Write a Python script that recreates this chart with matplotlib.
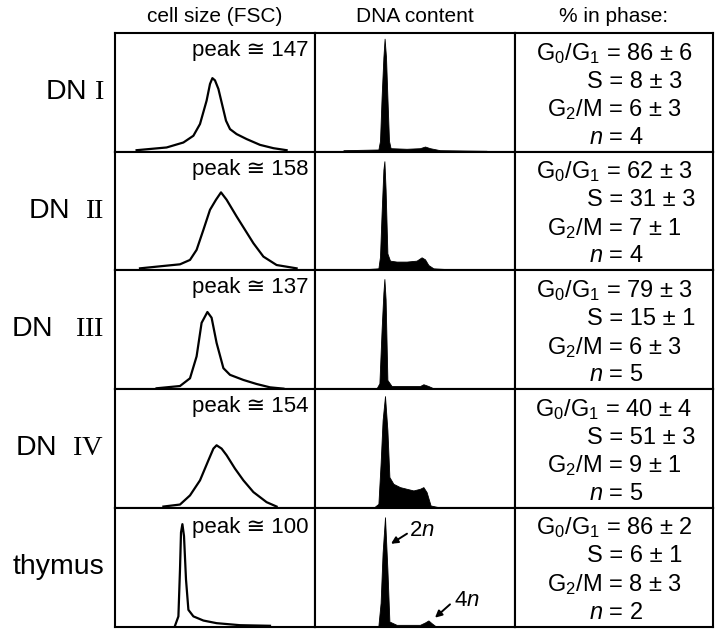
import matplotlib
matplotlib.use("Agg")
import matplotlib.pyplot as plt

plt.rcParams['font.family'] = ['Liberation Sans', 'DejaVu Sans']
plt.rcParams['mathtext.fontset'] = 'custom'
plt.rcParams['mathtext.rm'] = 'Liberation Sans'
plt.rcParams['mathtext.it'] = 'Liberation Sans:italic'
plt.rcParams['mathtext.sf'] = 'Liberation Sans'
plt.rcParams['mathtext.tt'] = 'Liberation Serif'

# ---------------- data ----------------
col_titles = ["cell size (FSC)", "DNA content", "% in phase:"]
row_labels = [r"DN $\mathtt{I}$", r"DN  $\mathtt{II}$", r"DN   $\mathtt{III}$",
              r"DN  $\mathtt{IV}$", "thymus"]
fsc_peaks = [147, 158, 137, 154, 100]

g1_mean = [86, 62, 79, 40, 86]
g1_sd = [6, 3, 3, 4, 2]
s_mean = [8, 31, 15, 51, 6]
s_sd = [3, 3, 1, 3, 1]
g2_mean = [6, 7, 6, 9, 8]
g2_sd = [3, 1, 3, 1, 3]
n_exp = [4, 4, 5, 5, 2]

# FSC histograms (channel %, relative count %)
fsc_x_dn1 = [10.8, 25.8, 34.2, 39.2, 42.5, 45.8, 47.5, 48.7, 50.0, 51.7, 53.3, 55.5, 57.5, 60.8, 65.8, 72.5, 79.2, 85.8]
fsc_y_dn1 = [1.1, 3.4, 7.6, 13.3, 23.2, 42.9, 57.0, 61.9, 60.0, 52.8, 41.5, 26.0, 18.9, 14.7, 10.5, 5.6, 2.8, 1.1]
fsc_x_dn2 = [12.5, 24.2, 32.5, 37.5, 40.8, 44.2, 47.5, 50.5, 53.0, 55.8, 60.8, 65.0, 69.2, 74.2, 80.8, 90.8]
fsc_y_dn2 = [1.4, 3.4, 4.8, 8.5, 17.0, 33.9, 50.8, 59.3, 65.5, 59.3, 45.2, 33.9, 22.6, 11.3, 4.2, 1.4]
fsc_x_dn3 = [20.8, 32.5, 37.5, 40.8, 43.3, 46.2, 48.3, 50.8, 54.2, 57.5, 64.2, 70.8, 77.5, 84.2]
fsc_y_dn3 = [0.6, 2.5, 9.0, 27.4, 55.6, 64.7, 59.9, 38.7, 17.5, 11.9, 7.6, 4.2, 1.4, 0.3]
fsc_x_dn4 = [24.2, 32.5, 37.5, 42.5, 46.7, 49.2, 50.8, 53.3, 55.8, 60.0, 64.2, 69.2, 75.8, 80.8]
fsc_y_dn4 = [0.8, 2.5, 10.2, 22.9, 39.8, 49.7, 52.5, 49.7, 44.1, 32.8, 22.9, 13.0, 4.5, 0.8]
fsc_x_thy = [30.0, 31.7, 32.5, 33.0, 33.7, 34.5, 35.5, 36.7, 39.2, 44.2, 50.8, 62.5, 77.5]
fsc_y_thy = [0.6, 8.5, 48.0, 79.0, 86.0, 76.0, 39.5, 14.0, 8.5, 5.0, 2.8, 1.1, 0.6]

# DNA content histograms (channel %, relative count %)
dna_x_dn1 = [14.2, 31.7, 32.5, 33.3, 34.2, 34.8, 35.5, 36.2, 37.0, 37.8, 45.8, 52.5, 55.0, 57.5, 62.5, 85.8]
dna_y_dn1 = [1.1, 1.7, 9.0, 45.8, 79.7, 95.2, 79.7, 45.8, 9.0, 2.8, 2.3, 2.8, 4.2, 2.8, 1.1, 0.6]
dna_x_dn2 = [24.2, 31.7, 32.5, 33.3, 34.2, 34.7, 35.3, 36.2, 37.5, 40.8, 45.8, 50.8, 53.3, 55.0, 56.7, 59.2, 74.2]
dna_y_dn2 = [0.6, 1.4, 11.3, 48.0, 84.7, 91.8, 67.8, 14.0, 7.9, 7.1, 7.1, 7.9, 10.7, 9.0, 4.2, 1.4, 0.0]
dna_x_dn3 = [30.8, 32.2, 33.3, 34.2, 34.7, 35.3, 36.2, 38.3, 45.8, 52.5, 54.2, 56.7, 59.2]
dna_y_dn3 = [0.6, 4.8, 50.0, 81.0, 92.4, 75.4, 7.6, 2.5, 2.5, 2.5, 4.0, 2.5, 0.6]
dna_x_dn4 = [30.0, 31.7, 32.8, 33.8, 35.0, 36.2, 37.2, 39.2, 42.5, 45.8, 49.2, 52.5, 54.2, 55.8, 57.8, 62.5]
dna_y_dn4 = [0.8, 3.1, 37.0, 73.7, 94.0, 65.3, 25.7, 20.0, 17.2, 15.8, 14.4, 15.8, 17.2, 13.0, 1.7, 0.0]
dna_x_thy = [31.7, 32.8, 33.8, 35.0, 36.2, 37.2, 40.8, 52.5, 55.0, 56.7, 58.3, 60.0]
dna_y_thy = [0.6, 19.8, 62.0, 91.8, 48.0, 4.2, 1.4, 1.4, 3.4, 5.1, 2.8, 0.6]

fsc_x = [fsc_x_dn1, fsc_x_dn2, fsc_x_dn3, fsc_x_dn4, fsc_x_thy]
fsc_y = [fsc_y_dn1, fsc_y_dn2, fsc_y_dn3, fsc_y_dn4, fsc_y_thy]
dna_x = [dna_x_dn1, dna_x_dn2, dna_x_dn3, dna_x_dn4, dna_x_thy]
dna_y = [dna_y_dn1, dna_y_dn2, dna_y_dn3, dna_y_dn4, dna_y_thy]

# ---------------- layout ----------------
W, H = 720, 632
fig = plt.figure(figsize=(W / 100, H / 100), dpi=100)
col_edges = [115, 315, 515, 713]
row_edges = [33, 151.5, 270, 389, 507.5, 626.5]

def make_ax(c, r):
    x0, x1 = col_edges[c], col_edges[c + 1]
    y0, y1 = row_edges[r], row_edges[r + 1]
    ax = fig.add_axes([x0 / W, 1 - y1 / H, (x1 - x0) / W, (y1 - y0) / H])
    ax.set_xlim(0, 100)
    ax.set_ylim(0, 100)
    ax.set_xticks([])
    ax.set_yticks([])
    for s in ax.spines.values():
        s.set_linewidth(1.5)
        s.set_color('black')
    return ax

peak_fs = 16
st_fs = 17
for r in range(5):
    # FSC
    ax = make_ax(0, r)
    ax.plot(fsc_x[r], fsc_y[r], color='black', lw=1.6, solid_joinstyle='round')
    ax.text(96.5, 85 if r < 4 else 83, f"peak \u2245 {fsc_peaks[r]}", ha='right', va='center',
            fontsize=peak_fs)
    # DNA
    ax = make_ax(1, r)
    ax.fill_between(dna_x[r], dna_y[r], 0, color='black', lw=0.6, edgecolor='black')
    if r == 4:
        ax.annotate("", xy=(38, 69.5), xytext=(46, 78),
                    arrowprops=dict(arrowstyle='-|>', color='black', lw=1.4,
                                    mutation_scale=10, shrinkA=0, shrinkB=0))
        ax.text(47, 81, "2$n$", ha='left', va='center', fontsize=peak_fs)
        ax.annotate("", xy=(60, 7.4), xytext=(67.5, 18.6),
                    arrowprops=dict(arrowstyle='-|>', color='black', lw=1.4,
                                    mutation_scale=10, shrinkA=0, shrinkB=0))
        ax.text(69.5, 21.5, "4$n$", ha='left', va='center', fontsize=peak_fs)
    # stats
    ax = make_ax(2, r)
    ax.set_xlim(0, 1)
    ax.set_ylim(0, 1)
    ax.text(0.5, 0.83, f"G$_0$/G$_1$ = {g1_mean[r]} \u00b1 {g1_sd[r]}", ha='center', va='center',
            fontsize=st_fs)
    ax.text(0.362, 0.59, f"S = {s_mean[r]} \u00b1 {s_sd[r]}", ha='left', va='center',
            fontsize=st_fs)
    ax.text(0.5, 0.35, f"G$_2$/M = {g2_mean[r]} \u00b1 {g2_sd[r]}", ha='center', va='center',
            fontsize=st_fs)
    ax.text(0.51, 0.115, f"$n$ = {n_exp[r]}", ha='center', va='center', fontsize=st_fs)
    # row label
    yc = 1 - (row_edges[r] + row_edges[r + 1]) / 2 / H
    fig.text(104 / W, yc, row_labels[r], ha='right', va='center', fontsize=20.5)

for c in range(3):
    xc = (col_edges[c] + col_edges[c + 1]) / 2 / W
    fig.text(xc, 1 - 17 / H, col_titles[c], ha='center', va='center', fontsize=15)

fig.savefig("out.png", dpi=100)
